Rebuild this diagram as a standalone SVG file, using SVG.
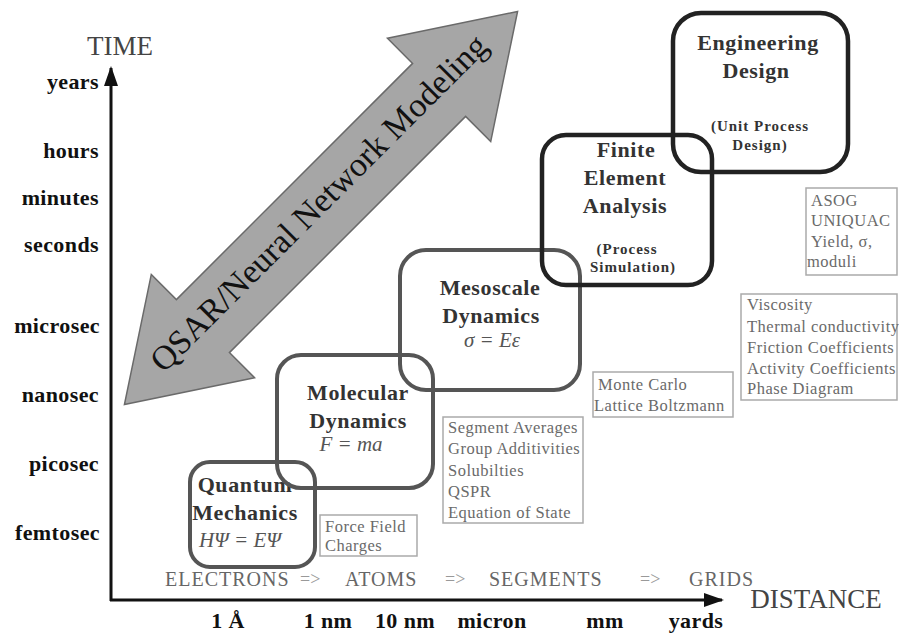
<svg xmlns="http://www.w3.org/2000/svg" width="899" height="635" viewBox="0 0 899 635">
<style>
text { font-family: "Liberation Serif", "Times New Roman", serif; }
.ylab { font-size: 22px; font-weight: bold; fill: #111; text-anchor: end; letter-spacing: 0.4px; }
.xlab { font-size: 22px; font-weight: bold; fill: #111; text-anchor: middle; letter-spacing: 0.4px; }
.axt { font-size: 27px; fill: #444; }
.scale { font-size: 20px; fill: #666; letter-spacing: 1px; }
.sep { font-size: 18px; fill: #999; }
.big { fill: none; stroke: #555; stroke-width: 4; }
.bigd { fill: none; stroke: #222; stroke-width: 4.5; }
.title { font-size: 22px; font-weight: bold; fill: #333; text-anchor: middle; letter-spacing: 0.6px; }
.sub { font-size: 15px; font-weight: bold; fill: #333; text-anchor: middle; letter-spacing: 1px; }
.eq { font-size: 21px; font-style: italic; fill: #555; text-anchor: middle; }
.info { fill: none; stroke: #aaa; stroke-width: 1.5; }
.it { font-size: 16.5px; fill: #6a6a6a; letter-spacing: 0.5px; }
.axis { stroke: #111; stroke-width: 3; fill: none; }
</style>
<defs>
<marker id="ah" viewBox="0 0 20 14" refX="18" refY="7" markerWidth="20" markerHeight="14" markerUnits="userSpaceOnUse" orient="auto">
<path d="M0,0 L20,7 L0,14 Z" fill="#111"/>
</marker>
</defs>
<rect width="899" height="635" fill="#fff"/>

<g id="connectors">
<line class="axis" x1="111" y1="601" x2="111" y2="68" marker-end="url(#ah)"/>
<line class="axis" x1="110" y1="600" x2="722" y2="600" marker-end="url(#ah)"/>
</g>

<g id="axis-labels">
<text class="axt" x="120" y="55" text-anchor="middle">TIME</text>
<text class="axt" x="816" y="608" text-anchor="middle">DISTANCE</text>
<text class="ylab" x="99" y="89">years</text>
<text class="ylab" x="99" y="158">hours</text>
<text class="ylab" x="99" y="205">minutes</text>
<text class="ylab" x="99" y="252">seconds</text>
<text class="ylab" x="100" y="333">microsec</text>
<text class="ylab" x="99" y="402">nanosec</text>
<text class="ylab" x="99" y="471">picosec</text>
<text class="ylab" x="100" y="540">femtosec</text>
<text class="xlab" x="228" y="628">1 Å</text>
<text class="xlab" x="328" y="628">1 nm</text>
<text class="xlab" x="405" y="628">10 nm</text>
<text class="xlab" x="492" y="628">micron</text>
<text class="xlab" x="605" y="628">mm</text>
<text class="xlab" x="696" y="628">yards</text>
</g>

<g id="scale-row">
<text class="scale" x="165" y="586">ELECTRONS</text>
<text class="sep" x="300" y="585">=&gt;</text>
<text class="scale" x="345" y="586">ATOMS</text>
<text class="sep" x="445" y="585">=&gt;</text>
<text class="scale" x="489" y="586">SEGMENTS</text>
<text class="sep" x="640" y="585">=&gt;</text>
<text class="scale" x="689" y="586">GRIDS</text>
</g>

<g id="qsar-arrow" transform="translate(321,208) rotate(-45)">
<path d="M278,0 L167,-73 L167,-37.5 L-167,-37.5 L-167,-73 L-278,0 L-167,73 L-167,37.5 L167,37.5 L167,73 Z" fill="#a6a6a6" stroke="#6a6a6a" stroke-width="1.5" stroke-linejoin="miter"/>
<text x="2" y="6" text-anchor="middle" font-size="34" fill="#111">QSAR/Neural Network Modeling</text>
</g>

<g id="quantum-mechanics">
<rect class="big" x="190" y="462" width="125" height="105" rx="20"/>
<text class="title" x="245" y="492">Quantum</text>
<text class="title" x="245" y="520">Mechanics</text>
<text class="eq" x="240" y="547">HΨ = EΨ</text>
</g>

<g id="molecular-dynamics">
<rect class="big" x="277" y="355" width="156" height="133" rx="24"/>
<text class="title" x="358" y="400">Molecular</text>
<text class="title" x="358" y="428">Dynamics</text>
<text class="eq" x="351" y="451">F = ma</text>
</g>

<g id="mesoscale-dynamics">
<rect class="big" x="400" y="250" width="180" height="140" rx="26"/>
<text class="title" x="490" y="295">Mesoscale</text>
<text class="title" x="491" y="323">Dynamics</text>
<text class="eq" x="492" y="347">σ = Eε</text>
</g>

<g id="finite-element-analysis">
<rect class="bigd" x="542" y="135" width="170" height="150" rx="24"/>
<text class="title" x="626" y="157">Finite</text>
<text class="title" x="625" y="185">Element</text>
<text class="title" x="625" y="213">Analysis</text>
<text class="sub" x="627" y="254">(Process</text>
<text class="sub" x="633" y="272">Simulation)</text>
</g>

<g id="engineering-design">
<rect class="bigd" x="673" y="13" width="175" height="159" rx="28"/>
<text class="title" x="758" y="50">Engineering</text>
<text class="title" x="756" y="78">Design</text>
<text class="sub" x="760" y="131">(Unit Process</text>
<text class="sub" x="760" y="150">Design)</text>
</g>

<g id="force-field-box">
<rect class="info" x="320" y="515" width="97" height="41"/>
<text class="it" x="325" y="532">Force Field</text>
<text class="it" x="325" y="551">Charges</text>
</g>

<g id="segment-box">
<rect class="info" x="443" y="417" width="140" height="106"/>
<text class="it" x="448" y="433">Segment Averages</text>
<text class="it" x="448" y="454">Group Additivities</text>
<text class="it" x="448" y="476">Solubilties</text>
<text class="it" x="448" y="497">QSPR</text>
<text class="it" x="448" y="518">Equation of State</text>
</g>

<g id="monte-carlo-box">
<rect class="info" x="593" y="372" width="140" height="45"/>
<text class="it" x="598" y="390">Monte Carlo</text>
<text class="it" x="594" y="411">Lattice Boltzmann</text>
</g>

<g id="properties-box">
<rect class="info" x="741" y="294" width="156" height="106"/>
<text class="it" x="747" y="310">Viscosity</text>
<text class="it" x="747" y="332">Thermal conductivity</text>
<text class="it" x="747" y="353">Friction Coefficients</text>
<text class="it" x="747" y="374">Activity Coefficients</text>
<text class="it" x="747" y="394">Phase Diagram</text>
</g>

<g id="asog-box">
<rect class="info" x="806" y="188" width="91" height="87"/>
<text class="it" x="811" y="206">ASOG</text>
<text class="it" x="811" y="226">UNIQUAC</text>
<text class="it" x="811" y="247">Yield, σ,</text>
<text class="it" x="807" y="267">moduli</text>
</g>
</svg>
